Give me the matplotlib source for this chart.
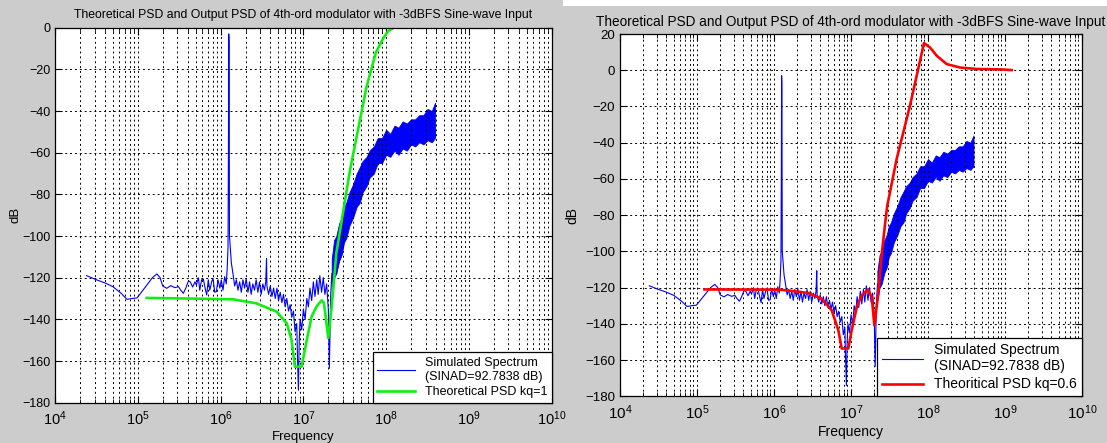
import matplotlib
matplotlib.use("Agg")
import matplotlib.pyplot as plt
from matplotlib.patches import Rectangle
from matplotlib.ticker import LogLocator, NullFormatter

plt.rcParams['font.family'] = ['Liberation Sans', 'DejaVu Sans']
plt.rcParams['mathtext.fontset'] = 'custom'
plt.rcParams['mathtext.rm'] = 'Liberation Sans'

# Simulated spectrum, thin noisy line (Hz, dB)
sim_f = [2.4e4, 3.16e4, 4.0e4, 5.0e4, 6.3e4, 7.4e4, 8.5e4, 9.8e4, 1.26e5, 1.5e5,
         1.7e5, 1.86e5, 2.0e5, 2.24e5, 2.5e5, 2.8e5, 3.1e5, 3.3e5, 3.55e5, 3.8e5,
         4.1e5, 4.3e5, 4.6e5, 4.9e5, 5.1e5, 5.4e5, 5.6e5, 5.9e5, 6.2e5, 6.5e5,
         6.8e5, 7.1e5, 7.4e5, 7.8e5, 8.1e5, 8.5e5, 8.9e5, 9.3e5, 9.8e5, 1.02e6,
         1.07e6, 1.12e6, 1.17e6, 1.2e6, 1.23e6, 1.245e6, 1.255e6, 1.265e6, 1.28e6, 1.35e6,
         1.41e6, 1.48e6, 1.55e6, 1.62e6, 1.70e6, 1.78e6, 1.86e6, 1.95e6, 2.04e6, 2.14e6,
         2.24e6, 2.34e6, 2.45e6, 2.57e6, 2.69e6, 2.82e6, 2.95e6, 3.09e6, 3.24e6, 3.39e6,
         3.51e6, 3.59e6, 3.63e6, 3.80e6, 3.98e6, 4.17e6, 4.37e6, 4.57e6, 4.79e6, 5.01e6,
         5.25e6, 5.50e6, 5.75e6, 6.03e6, 6.31e6, 6.61e6, 6.92e6, 7.24e6, 7.59e6, 7.94e6,
         8.32e6, 8.51e6, 8.71e6, 8.91e6, 9.12e6, 9.55e6, 1.0e7, 1.05e7, 1.10e7, 1.15e7,
         1.20e7, 1.26e7, 1.32e7, 1.38e7, 1.45e7, 1.51e7, 1.58e7, 1.66e7, 1.74e7, 1.82e7,
         1.91e7, 2.0e7, 2.06e7, 2.14e7, 2.21e7]
sim_db = [-119, -121, -122.5, -124.3, -127.5, -130.4, -130, -129.7, -124, -120,
          -118.2, -120, -124, -125.1, -123.8, -124.8, -124.3, -126, -127.5, -125,
          -121.5, -122, -124.5, -122, -123.5, -120, -126, -121, -120.7, -125,
          -128.3, -121, -126, -122, -120.3, -127, -126.7, -121, -125, -121.1,
          -126, -119.5, -123, -116, -105, -57, -3, -7, -100, -113,
          -118, -124, -121, -126, -122, -127, -121, -125, -120.5, -127,
          -122, -128, -123, -126, -121, -127, -122, -128, -123, -126,
          -122, -110.7, -124, -128, -124, -129, -125, -130, -125, -131,
          -127, -132, -128, -134, -130, -136, -133, -139, -136, -146,
          -142, -160, -174, -150, -140, -145, -135, -140, -130, -134,
          -125, -131, -122, -129, -121, -128, -119, -127, -120, -128,
          -123, -135, -163.5, -128, -118]

# Simulated spectrum, dense high-frequency part: upper / lower envelope
band_f = [2.2e7, 2.35e7, 2.5e7, 2.7e7, 2.9e7, 3.1e7, 3.3e7, 3.6e7, 4.0e7, 4.4e7,
          4.8e7, 5.2e7, 5.8e7, 6.3e7, 7.1e7, 7.9e7, 8.9e7, 1.0e8, 1.12e8, 1.26e8,
          1.41e8, 1.58e8, 1.78e8, 2.0e8, 2.24e8, 2.51e8, 2.82e8, 3.16e8, 3.55e8, 3.9e8]
band_hi = [-111, -102, -100, -94, -91, -86, -84, -79, -75, -70,
           -67, -64, -62, -59, -57, -53, -53, -49, -51, -47,
           -48, -45, -46, -44, -44, -42, -42, -39, -40, -36]
band_lo = [-127, -120, -118, -112, -109, -103, -101, -95, -91, -86,
           -84, -79, -76, -72, -70, -65, -65, -61, -62, -59,
           -61, -58, -59, -56, -57, -55, -56, -54, -55, -53]

# Theoretical PSD kq=1 (left)
th1_f = [1.28e5, 4e5, 1.42e6, 2.7e6, 4.75e6, 6.3e6, 7.2e6, 7.9e6, 9.5e6, 1.1e7,
         1.26e7, 1.45e7, 1.66e7, 1.77e7, 2.0e7, 2.2e7, 2.5e7, 3.66e7, 5.8e7, 7.5e7,
         9.2e7, 1.05e8, 1.22e8, 1.2e9]
th1_db = [-129.7, -130, -130.4, -132.3, -136.3, -141.9, -149.9, -162.7, -162.7, -149.9,
          -138.5, -133.7, -130.9, -132, -149, -133.7, -108.3, -68.3, -28.3, -12,
          -5.1, -1.8, 0, 0]

# Theoretical PSD kq=0.6 (right)
th6_f = [1.25e5, 1.14e6, 1.88e6, 2.79e6, 4.16e6, 5.61e6, 6.84e6, 7.57e6, 9.23e6, 1.02e7,
         1.19e7, 1.38e7, 1.65e7, 1.86e7, 2.01e7, 2.26e7, 2.5e7, 2.75e7, 2.95e7, 3.92e7,
         5.83e7, 8.87e7, 1.06e8, 1.30e8, 1.75e8, 2.61e8, 4.3e8, 8.6e8, 1.22e9]
th6_db = [-121, -121.1, -122, -123, -126.1, -132.5, -143.5, -153.6, -153.6, -143.5,
          -130.7, -124.2, -121.1, -125.2, -140.8, -123.3, -102, -86, -75, -48.9,
          -19.6, 15, 12.6, 8, 3.4, 1.5, 0.7, 0.5, 0.1]

x_ticks = [1e4, 1e5, 1e6, 1e7, 1e8, 1e9, 1e10]
title = "Theoretical PSD and Output PSD of 4th-ord modulator with -3dBFS Sine-wave Input"
sim_label = "Simulated Spectrum\n(SINAD=92.7838 dB)"

fig = plt.figure(figsize=(11.07, 4.43), dpi=100, facecolor="#cccccc")
fig.patches.append(Rectangle((0.5086, 0.9865), 0.5, 0.02, transform=fig.transFigure,
                             facecolor="white", edgecolor="none"))

ax1 = fig.add_axes([0.0497, 0.0910, 0.4487, 0.8465])
ax2 = fig.add_axes([0.5601, 0.1054, 0.4173, 0.8178])


def draw_panel(ax, th_f, th_db, th_color, th_label, yticks, fs, leg_fs):
    ax.fill_between(band_f, band_lo, band_hi, color="blue", linewidth=0.6)
    ax.plot(sim_f, sim_db, color="blue", linewidth=0.8, label=sim_label)
    ax.plot(th_f, th_db, color=th_color, linewidth=1.9, label=th_label)
    ax.set_xscale("log")
    ax.set_xlim(1e4, 1e10)
    ax.set_ylim(yticks[-1], yticks[0])
    ax.set_yticks(yticks)
    ax.set_xticks(x_ticks)
    ax.xaxis.set_minor_locator(LogLocator(base=10, subs=range(2, 10), numticks=100))
    ax.xaxis.set_minor_formatter(NullFormatter())
    ax.grid(True, which="both", axis="x", color="black", linestyle=(0, (2, 3)), linewidth=0.7)
    ax.grid(True, which="major", axis="y", color="black", linestyle=(0, (2, 3)), linewidth=0.7)
    ax.tick_params(which="both", direction="in", top=True, right=True)
    ax.tick_params(axis="y", labelsize=fs)
    ax.tick_params(axis="x", labelsize=fs + 1.5, pad=5)
    ax.tick_params(which="major", length=5)
    ax.tick_params(which="minor", length=3)
    for sp in ax.spines.values():
        sp.set_linewidth(0.9)
    ax.set_xlabel("Frequency", fontsize=fs + 0.5, labelpad=2)
    ax.set_ylabel("dB", fontsize=fs + 0.5)
    leg = ax.legend(loc="lower right", borderaxespad=0, fancybox=False, framealpha=1,
                    edgecolor="black", fontsize=leg_fs, handlelength=3.0,
                    borderpad=0.35, labelspacing=0.3)
    leg.get_frame().set_linewidth(0.9)


draw_panel(ax1, th1_f, th1_db, "#11ee11", "Theoretical PSD kq=1",
           list(range(0, -181, -20)), 9, 9)
ax1.set_title(title, fontsize=8.8, pad=7)
ax1.yaxis.labelpad = 0

draw_panel(ax2, th6_f, th6_db, "red", "Theoritical PSD kq=0.6",
           list(range(20, -181, -20)), 9.5, 10)
ax2.set_title(title, fontsize=9.8, pad=6)

fig.savefig("out.png", dpi=100, facecolor=fig.get_facecolor())
